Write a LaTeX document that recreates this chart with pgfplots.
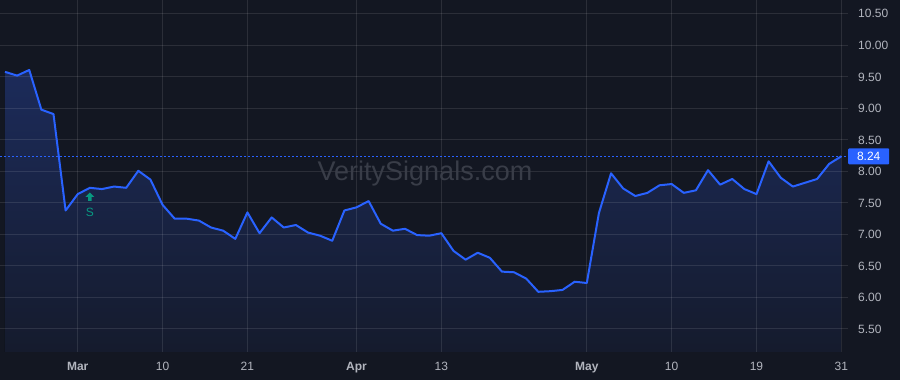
\documentclass[border=0pt]{standalone}
\usepackage{fontspec}
\setmainfont{Liberation Sans}
\usepackage{pgfplots}
\usepackage{pgfplotstable}
\pgfplotsset{compat=1.18}
\usepgfplotslibrary{fillbetween}
\definecolor{bgc}{HTML}{131722}
\definecolor{linec}{HTML}{2962FF}
\definecolor{txtc}{HTML}{B2B5BE}
\definecolor{sigc}{HTML}{089981}
\definecolor{wmc}{HTML}{393D48}
\definecolor{topc}{RGB}{28,43,90}
\definecolor{botc}{RGB}{21,27,45}

\pgfplotstableread{
x y
0 9.58
1 9.52
2 9.61
3 8.98
4 8.91
5 7.38
6 7.64
7 7.74
8 7.72
9 7.76
10 7.74
11 8.01
12 7.87
13 7.47
14 7.25
15 7.25
16 7.22
17 7.11
18 7.06
19 6.93
20 7.35
21 7.02
22 7.27
23 7.11
24 7.15
25 7.03
26 6.98
27 6.90
28 7.38
29 7.43
30 7.53
31 7.17
32 7.06
33 7.09
34 6.99
35 6.98
36 7.02
37 6.74
38 6.60
39 6.71
40 6.63
41 6.41
42 6.40
43 6.30
44 6.09
45 6.10
46 6.12
47 6.25
48 6.23
49 7.34
50 7.97
51 7.73
52 7.61
53 7.66
54 7.78
55 7.80
56 7.66
57 7.70
58 8.02
59 7.79
60 7.88
61 7.72
62 7.64
63 8.16
64 7.90
65 7.76
66 7.82
67 7.88
68 8.12
69 8.24
}\datatable

\pgfdeclareplotmark{uparrow}{%
  \pgfpathmoveto{\pgfpoint{-4.5pt}{0pt}}%
  \pgfpathlineto{\pgfpoint{4.5pt}{0pt}}%
  \pgfpathlineto{\pgfpoint{0pt}{4.5pt}}%
  \pgfpathclose
  \pgfpathrectangle{\pgfpoint{-1.8pt}{-4pt}}{\pgfpoint{3.6pt}{4.2pt}}%
  \pgfusepathqfill}

\begin{document}
\begin{tikzpicture}
\begin{axis}[
  at={(0pt,0pt)}, anchor=south west,
  scale only axis, width=848pt, height=352pt,
  xmin=-0.4125, xmax=69.55, ymin=5.135, ymax=10.72,
  set layers,
  axis line style={draw=none},
  major tick length=0pt,
  grid=major,
  major grid style={white, draw opacity=0.1, line width=1pt},
  clip=false,
  ytick={5.5,6,6.5,7,7.5,8,8.5,9,9.5,10,10.5},
  yticklabel pos=right,
  yticklabel style={anchor=west, inner sep=0pt, xshift=10pt, text=txtc,
    font=\fontsize{12}{14}\selectfont,
    /pgf/number format/.cd, fixed, fixed zerofill, precision=2, assume math mode=true},
  xtick={6,13,20,29,36,48,55,62,69},
  xticklabels={\textbf{Mar},10,21,\textbf{Apr},13,\textbf{May},10,19,31},
  xticklabel style={anchor=north, inner sep=0pt, yshift=-10pt, text=txtc,
    font=\fontsize{12}{14}\selectfont},
]
\begin{pgfonlayer}{axis background}
\fill[bgc] (rel axis cs:0,-0.079545) rectangle (rel axis cs:1.061321,1);
\end{pgfonlayer}
\node[wmc, font=\fontsize{27}{30}\selectfont, anchor=base] at (axis cs:34.65,7.85) {VeritySignals.com};
\addplot[name path=L, draw=none] table {\datatable};
\addplot[name path=B, draw=none] coordinates {(0,5.135) (69,5.135)};
\addplot[top color=topc, bottom color=botc, draw=none] fill between[of=L and B, on layer=axis background];
\addplot[linec, line width=1pt, dash pattern=on 2pt off 2pt] coordinates {(-0.4125,8.24) (69.55,8.24)};
\addplot[linec, line width=2pt, line join=round] table {\datatable};
\addplot[only marks, mark=uparrow, sigc,
  nodes near coords={S},
  every node near coord/.append style={anchor=north, yshift=-11pt, inner sep=0pt,
    text=sigc, font=\fontsize{12}{14}\selectfont}] coordinates {(7,7.595)};
\node[fill=linec, text=white, font=\fontsize{12}{14}\selectfont, anchor=west,
  minimum width=41pt, minimum height=16pt, inner sep=0pt, rounded corners=1pt]
  at (axis cs:69.55,8.24) {8.24};
\end{axis}
\pgfresetboundingbox
\path[use as bounding box] (0pt,-28pt) rectangle (900pt,352pt);
\end{tikzpicture}
\end{document}
